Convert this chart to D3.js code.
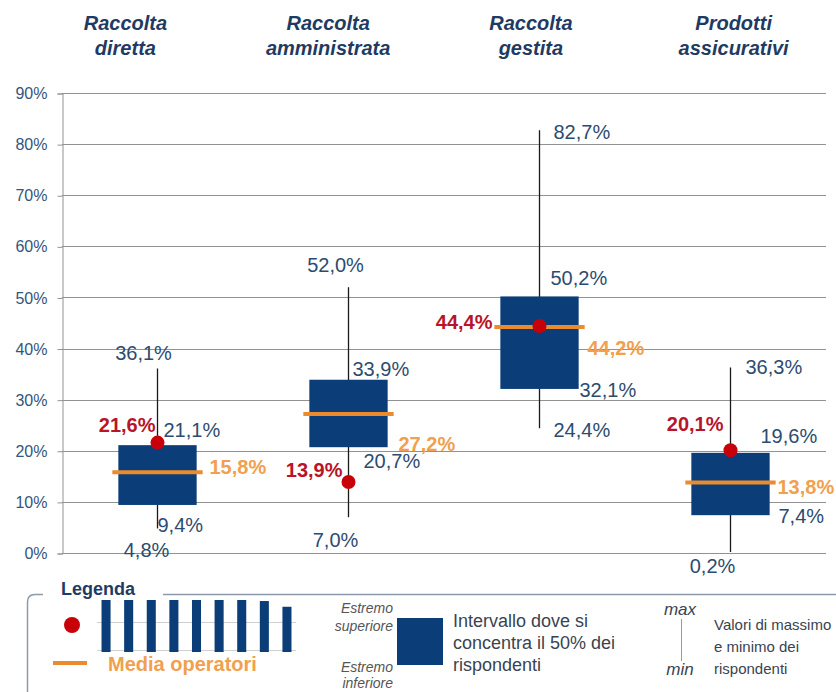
<!DOCTYPE html>
<html>
<head>
<meta charset="utf-8">
<script src="https://cdn.jsdelivr.net/npm/d3@7"></script>
<style>
  body { margin: 0; background: #fff; }
  svg { display: block; font-family: "Liberation Sans", Arial, sans-serif; }
</style>
</head>
<body>
<script>
// Data
const categories = ["Raccolta diretta", "Raccolta amministrata", "Raccolta gestita", "Prodotti assicurativi"];
const maxValues = [36.1, 52.0, 82.7, 36.3];
const q3Values = [21.1, 33.9, 50.2, 19.6];
const q1Values = [9.4, 20.7, 32.1, 7.4];
const minValues = [4.8, 7.0, 24.4, 0.2];
const bankValues = [21.6, 13.9, 44.4, 20.1];   // red dots
const meanValues = [15.8, 27.2, 44.2, 13.8];   // "Media operatori"
const yTicks = [0, 10, 20, 30, 40, 50, 60, 70, 80, 90];
const legendBarValues = [100, 100, 100, 100, 100, 100, 100, 98, 87];

const rows = categories.map((c, i) => ({
  cat: c, max: maxValues[i], q3: q3Values[i], q1: q1Values[i], min: minValues[i],
  bank: bankValues[i], mean: meanValues[i]
}));

// label placement: [dx from box centre, dy from value, anchor]
const labelPos = [
  { max: [-14, -8, "middle"], q3: [6, -8, "start"], q1: [0, 27, "start"], min: [-11, 29, "middle"], bank: [-2, -11, "end"], mean: [52, 2, "start"] },
  { max: [-13, -15, "middle"], q3: [4, -4, "start"], q1: [15, 21, "start"], min: [-13, 30, "middle"], bank: [-6, -5, "end"], mean: [50, 37, "start"] },
  { max: [14, 9, "start"], q3: [11, -11, "start"], q1: [40, 8, "start"], min: [14, 9, "start"], bank: [-47, 3, "end"], mean: [48, 28, "start"] },
  { max: [15, 7, "start"], q3: [30, -10, "start"], q1: [48, 8, "start"], min: [-18, 21, "middle"], bank: [-7, -19, "end"], mean: [47, 12, "start"] }
];

const W = 836, H = 692;
const plot = { left: 62, right: 826, top: 93, bottom: 553 };

const fmt = d3.formatLocale({ decimal: ",", thousands: ".", grouping: [3], currency: ["", "€"] }).format(".1f");
const pct = v => fmt(v) + "%";

const svg = d3.select("body").append("svg")
  .attr("width", W).attr("height", H);

svg.append("rect").attr("width", W).attr("height", H).attr("fill", "#fff");

// Scales
const x = d3.scaleBand().domain(categories).range([plot.left, plot.right]).padding(0);
const xTitle = d3.scaleBand().domain(categories).range([24, 835]).padding(0);
const y = d3.scaleLinear().domain([0, 90]).range([plot.bottom, plot.top]);
const boxW = x.bandwidth() * 0.41;
const cx = d => x(d) + x.bandwidth() / 2;

// Gridlines
svg.append("g")
  .selectAll("line")
  .data(yTicks)
  .join("line")
  .attr("x1", plot.left).attr("x2", plot.right)
  .attr("y1", d => Math.round(y(d)) + 0.5).attr("y2", d => Math.round(y(d)) + 0.5)
  .attr("stroke", "#929292").attr("stroke-width", 1);

// Y axis
const yAxis = svg.append("g")
  .attr("transform", `translate(${plot.left + 0.5},0.5)`)
  .call(d3.axisLeft(y).tickValues(yTicks).tickSize(5).tickPadding(10).tickFormat(d => d + "%"));
yAxis.select(".domain").attr("stroke", "#929292");
yAxis.selectAll(".tick line").attr("stroke", "#929292");
yAxis.selectAll(".tick text")
  .attr("fill", "#34557c")
  .style("font-size", "16px")
  .style("font-family", "'Liberation Sans', Arial, sans-serif");

// Titles
svg.append("g")
  .selectAll("text")
  .data(categories)
  .join("text")
  .attr("x", d => xTitle(d) + xTitle.bandwidth() / 2)
  .attr("y", 30)
  .attr("text-anchor", "middle")
  .attr("fill", "#1f3b63")
  .style("font-size", "20px")
  .style("font-weight", "bold")
  .style("font-style", "italic")
  .each(function (d) {
    const i = d.indexOf(" ");
    const parts = [d.slice(0, i), d.slice(i + 1)];
    d3.select(this).selectAll("tspan")
      .data(parts)
      .join("tspan")
      .attr("x", d3.select(this).attr("x"))
      .attr("dy", (p, k) => k === 0 ? 0 : 25)
      .text(p => p);
  });

// Boxes
const g = svg.append("g");

g.selectAll(".whisker")
  .data(rows)
  .join("line")
  .attr("class", "whisker")
  .attr("x1", d => cx(d.cat)).attr("x2", d => cx(d.cat))
  .attr("y1", d => y(d.max)).attr("y2", d => y(d.min))
  .attr("stroke", "#1a1a1a").attr("stroke-width", 1.3);

g.selectAll(".box")
  .data(rows)
  .join("rect")
  .attr("class", "box")
  .attr("x", d => cx(d.cat) - boxW / 2)
  .attr("width", boxW)
  .attr("y", d => y(d.q3))
  .attr("height", d => y(d.q1) - y(d.q3))
  .attr("fill", "#0b3e78");

g.selectAll(".mean")
  .data(rows)
  .join("line")
  .attr("class", "mean")
  .attr("x1", d => cx(d.cat) - boxW / 2 - 6)
  .attr("x2", d => cx(d.cat) + boxW / 2 + 6)
  .attr("y1", d => y(d.mean)).attr("y2", d => y(d.mean))
  .attr("stroke", "#ec8a2e").attr("stroke-width", 4);

g.selectAll(".bank")
  .data(rows)
  .join("circle")
  .attr("class", "bank")
  .attr("cx", d => cx(d.cat))
  .attr("cy", d => y(d.bank))
  .attr("r", 7)
  .attr("fill", "#c8000a");

// Value labels
const labelStyle = {
  max: { fill: "#2d4b70", weight: "normal", size: 20 },
  q3: { fill: "#2d4b70", weight: "normal", size: 20 },
  q1: { fill: "#2d4b70", weight: "normal", size: 20 },
  min: { fill: "#2d4b70", weight: "normal", size: 20 },
  bank: { fill: "#b8142a", weight: "bold", size: 20 },
  mean: { fill: "#f0a04e", weight: "bold", size: 20 }
};
const labels = [];
rows.forEach((d, i) => {
  Object.keys(labelStyle).forEach(k => {
    const p = labelPos[i][k];
    labels.push({ x: cx(d.cat) + p[0], y: y(d[k]) + p[1], anchor: p[2], text: pct(d[k]), st: labelStyle[k] });
  });
});
g.selectAll(".vlabel")
  .data(labels)
  .join("text")
  .attr("class", "vlabel")
  .attr("x", d => d.x).attr("y", d => d.y)
  .attr("text-anchor", d => d.anchor)
  .attr("fill", d => d.st.fill)
  .style("font-weight", d => d.st.weight)
  .style("font-size", d => d.st.size + "px")
  .text(d => d.text);

// Legend
const lg = svg.append("g");
lg.append("path")
  .attr("d", "M43,594.5 L35,594.5 Q27.5,594.5 27.5,602 L27.5,692")
  .attr("fill", "none").attr("stroke", "#8d9aab").attr("stroke-width", 1.5);
lg.append("line")
  .attr("x1", 163).attr("x2", W).attr("y1", 594.5).attr("y2", 594.5)
  .attr("stroke", "#8d9aab").attr("stroke-width", 1.5);
lg.append("text")
  .attr("x", 61).attr("y", 595)
  .attr("fill", "#1f3b63")
  .style("font-size", "18px").style("font-weight", "bold")
  .text("Legenda");

// decorative bars in the legend
const lx = d3.scaleBand().domain(d3.range(legendBarValues.length)).range([97, 296]).paddingInner(0.6).paddingOuter(0.2);
const ly = d3.scaleLinear().domain([0, 100]).range([652, 600]);
[622.5, 650.5].forEach(yy => {
  lg.append("line").attr("x1", 97).attr("x2", 296).attr("y1", yy).attr("y2", yy)
    .attr("stroke", "#cfcfcf").attr("stroke-width", 1);
});
lg.selectAll(".lbar")
  .data(legendBarValues)
  .join("rect")
  .attr("class", "lbar")
  .attr("x", (d, i) => lx(i))
  .attr("width", lx.bandwidth())
  .attr("y", d => ly(d))
  .attr("height", d => ly(0) - ly(d))
  .attr("fill", "#0b3e78");

lg.append("circle").attr("cx", 72).attr("cy", 625).attr("r", 8).attr("fill", "#c8000a");
lg.append("line").attr("x1", 53).attr("x2", 87).attr("y1", 663).attr("y2", 663)
  .attr("stroke", "#ec8a2e").attr("stroke-width", 4);
lg.append("text")
  .attr("x", 108).attr("y", 671)
  .attr("fill", "#f0a04e")
  .style("font-size", "20px").style("font-weight", "bold")
  .text("Media operatori");

const smallItalic = (txt, xx, yy, anchor) => lg.append("text")
  .attr("x", xx).attr("y", yy).attr("text-anchor", anchor)
  .attr("fill", "#555")
  .style("font-size", "14px").style("font-style", "italic")
  .text(txt);
smallItalic("Estremo", 393, 613, "end");
smallItalic("superiore", 393, 631, "end");
smallItalic("Estremo", 393, 672, "end");
smallItalic("inferiore", 393, 688, "end");

lg.append("rect").attr("x", 397).attr("y", 618).attr("width", 46).attr("height", 47).attr("fill", "#0b3e78");

const legendText = (lines, xx, yy, size) => lg.append("text")
  .attr("x", xx).attr("y", yy)
  .attr("fill", "#3a4350")
  .style("font-size", size + "px")
  .selectAll("tspan")
  .data(lines)
  .join("tspan")
  .attr("x", xx)
  .attr("dy", (d, k) => k === 0 ? 0 : 22)
  .text(d => d);
legendText(["Intervallo dove si", "concentra il 50% dei", "rispondenti"], 453, 627, 18);

lg.append("text").attr("x", 680).attr("y", 615).attr("text-anchor", "middle")
  .attr("fill", "#3a4350").style("font-size", "17px").style("font-style", "italic").text("max");
lg.append("text").attr("x", 680).attr("y", 675).attr("text-anchor", "middle")
  .attr("fill", "#3a4350").style("font-size", "17px").style("font-style", "italic").text("min");
lg.append("line").attr("x1", 681.5).attr("x2", 681.5).attr("y1", 619).attr("y2", 661)
  .attr("stroke", "#9a9a9a").attr("stroke-width", 1);
// the reference crops this text at the right edge; a slightly smaller size keeps it readable
legendText(["Valori di massimo", "e minimo dei", "rispondenti"], 714, 630, 15);
</script>
</body>
</html>
